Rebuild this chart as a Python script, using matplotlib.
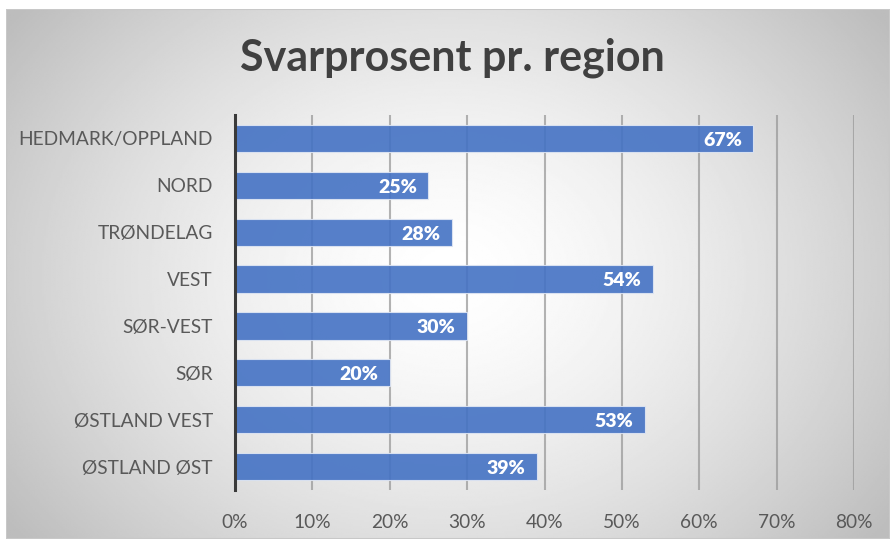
import numpy as np
import matplotlib.pyplot as plt
from matplotlib.patches import Rectangle

regions = ["HEDMARK/OPPLAND", "NORD", "TRØNDELAG", "VEST", "SØR-VEST", "SØR",
           "ØSTLAND VEST", "ØSTLAND ØST"]
values = [67, 25, 28, 54, 30, 20, 53, 39]
xticks = [0, 10, 20, 30, 40, 50, 60, 70, 80]
xlabels = ["0%", "10%", "20%", "30%", "40%", "50%", "60%", "70%", "80%"]

plt.rcParams['font.family'] = ['Lato', 'DejaVu Sans']

fig = plt.figure(figsize=(8.9, 5.39), dpi=100)

# background: radial gradient white -> gray inside a framed area
bg = fig.add_axes([6/890, 0, 884/890, 530/539])
yy, xx = np.mgrid[0:1:300j, 0:1:500j]
r = np.sqrt(((xx - 0.5) / 0.72)**2 + ((yy - 0.5) / 0.95)**2)
shade = np.clip(1.0 - 0.33 * r**1.5, 0.74, 1.0)
bg.imshow(shade, cmap='gray', vmin=0, vmax=1, aspect='auto', extent=[0, 1, 0, 1])
bg.add_patch(Rectangle((0, 0), 1, 1, fill=False, edgecolor='#c8c8c8', lw=1.5,
                       transform=bg.transAxes))
bg.set_axis_off()

ax = fig.add_axes([235/890, 49/539, 619/890, 375/539])
ax.patch.set_alpha(0)
y = np.arange(len(regions))
ax.barh(y, values, height=0.58, color='#4472C4', alpha=0.9,
        edgecolor='#dfe6f3', linewidth=0.8, zorder=3)
for yi, v in zip(y, values):
    ax.text(v - 1.5, yi + 0.04, f"{v}%", ha='right', va='center', color='white',
            fontsize=14, fontweight='heavy', zorder=4)

ax.set_xlim(0, 80)
ax.set_ylim(len(regions) - 0.5, -0.5)
ax.set_xticks(xticks)
ax.set_xticklabels(xlabels)
ax.set_yticks(y)
ax.set_yticklabels(regions)
ax.grid(axis='x', color='#9a9a9a', linewidth=1.5, alpha=0.75, zorder=1)
ax.tick_params(axis='both', length=0, labelsize=13.8, labelcolor='#595959')
ax.tick_params(axis='x', pad=17)
ax.tick_params(axis='y', pad=16)
for s in ['top', 'right', 'bottom']:
    ax.spines[s].set_visible(False)
ax.spines['left'].set_color('#3a3a3a')
ax.spines['left'].set_linewidth(2.2)
ax.spines['left'].set_zorder(5)

fig.text(0.508, 1 - 58/539, "Svarprosent pr. region", ha='center', va='center',
         fontsize=31, fontweight='bold', color='#404040')

fig.savefig("out.png", dpi=100)
